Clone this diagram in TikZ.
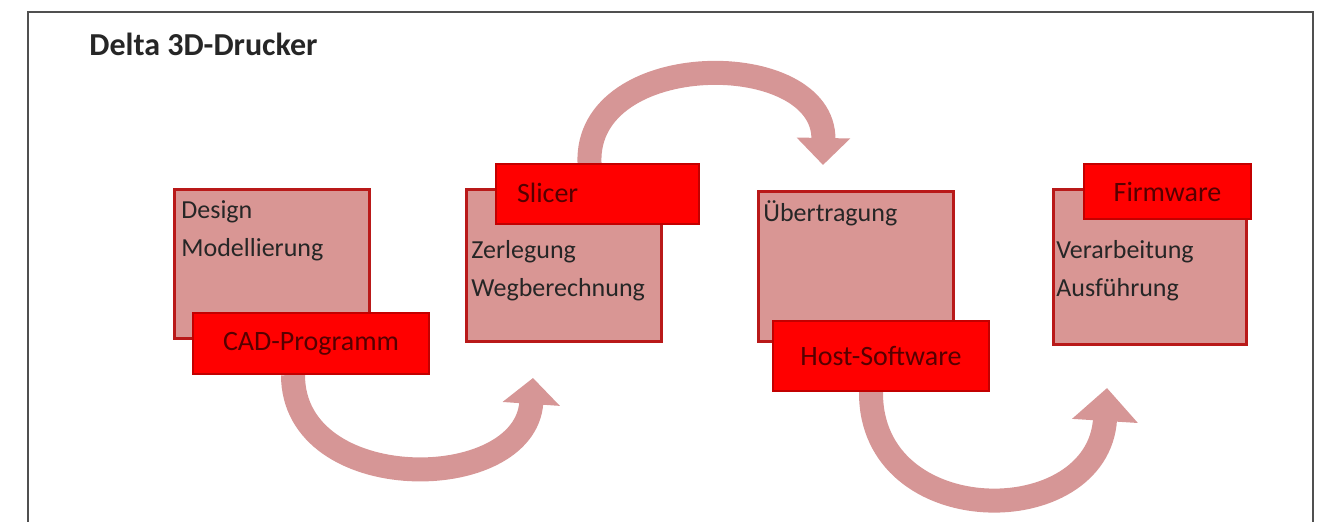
\documentclass[tikz,border=0pt]{standalone}
\usepackage{fontspec}
\setmainfont{Carlito}
\usetikzlibrary{arrows.meta,backgrounds}
\definecolor{boxpink}{RGB}{217,150,148}
\definecolor{boxedge}{RGB}{185,25,25}
\definecolor{lblred}{RGB}{255,0,0}
\definecolor{lbledge}{RGB}{195,0,0}
\definecolor{lbltextcol}{RGB}{85,0,0}
\definecolor{arrowpink}{RGB}{214,150,150}
\definecolor{framegray}{RGB}{80,80,80}
\tikzset{
  pinkbox/.style={draw=boxedge, fill=boxpink, line width=1.4pt, inner sep=0pt, anchor=north west},
  redlabel/.style={draw=lbledge, fill=lblred, line width=1pt, inner sep=0pt, anchor=north west,
    text=lbltextcol, font=\fontsize{14}{16}\selectfont},
  itemtext/.style={font=\fontsize{13}{15}\selectfont, text=black!85, anchor=west, inner sep=0pt},
  bigarrow/.style={draw=arrowpink, line width=12pt}
}
\begin{document}
\begin{tikzpicture}[x=0.5pt,y=-0.5pt]
\useasboundingbox (0,0) rectangle (1329,522);
\draw[framegray, line width=1.3pt] (28,522) -- (28,12) -- (1313,12) -- (1313,522);

\node[font=\bfseries\fontsize{16}{18}\selectfont, text=black!85, anchor=west, inner sep=0pt] (title) at (89,44) {Delta 3D-Drucker};

% boxes
\node[pinkbox, minimum width=97.5pt, minimum height=74.5pt] (cad) at (173,188) {};
\node[pinkbox, minimum width=97.5pt, minimum height=76pt] (slice) at (465,188) {};
\node[pinkbox, minimum width=97.5pt, minimum height=75pt] (trans) at (757,190) {};
\node[pinkbox, minimum width=96.5pt, minimum height=77.5pt] (firm) at (1052,188) {};

\node[itemtext] (design) at (181,212) {Design};
\node[itemtext] (model) at (181,250) {Modellierung};
\node[itemtext] (zerl) at (471,252) {Zerlegung};
\node[itemtext] (weg) at (471,290) {Wegberechnung};
\node[itemtext] (uebt) at (763,213) {Übertragung};
\node[itemtext] (verarb) at (1056,252) {Verarbeitung};
\node[itemtext] (ausf) at (1056,290) {Ausführung};

% labels
\node[redlabel, minimum width=118pt, minimum height=30.5pt] (cadlbl) at (192,312) {CAD-Programm};
\node[redlabel, minimum width=101.5pt, minimum height=30pt] (slicer) at (495,163) {};
\node[redlabel, draw=none, fill=none, anchor=west] (slicertext) at (516,193) {Slicer};
\node[redlabel, minimum width=108pt, minimum height=35pt] (host) at (772,320) {Host-Software};
\node[redlabel, minimum width=83.5pt, minimum height=27.5pt] (fw) at (1083,163) {Firmware};

% arrows
\coordinate (tip1) at (533,378);
\coordinate (tip2) at (823,165);
\coordinate (tip3) at (1107,388);
\begin{scope}[on background layer]
\draw[bigarrow, -{Triangle[length=13pt,width=28pt]}] ([xshift=-9pt]cadlbl.south) .. controls +(0,122) and (525,495) .. (tip1);
\draw[bigarrow, -{Triangle[length=13.5pt,width=26pt]}] ([xshift=-4pt]slicer.north) .. controls (585,47) and (825,47) .. (tip2);
\draw[bigarrow, -{Triangle[length=16.5pt,width=32pt]}] ([xshift=-5pt]host.south) .. controls (870,532) and (1098,532) .. (tip3);
\end{scope}
\end{tikzpicture}
\end{document}
